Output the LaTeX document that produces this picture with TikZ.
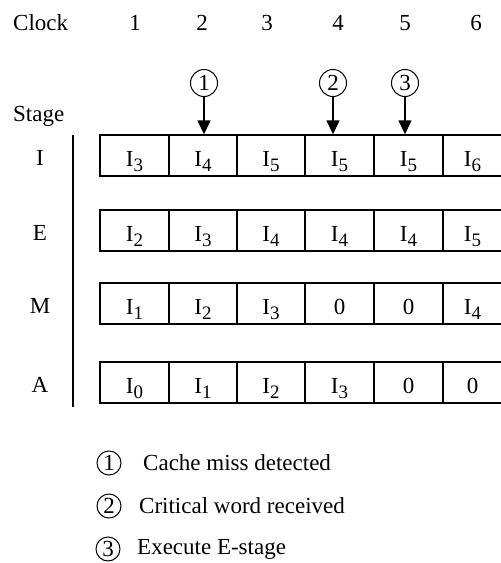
\documentclass[tikz,border=0pt]{standalone}
\usepackage{fontspec}
\setmainfont{Liberation Serif}
\usetikzlibrary{arrows.meta}
\newcommand{\sI}[1]{I\raisebox{-5pt}{\fontsize{19}{19}\selectfont #1}}
\begin{document}
\begin{tikzpicture}[x=1pt,y=-1pt,
  every node/.style={font=\fontsize{23}{27}\selectfont},
  cellbox/.style={draw,line width=1.4pt,rectangle,inner sep=0pt},
  txt/.style={anchor=base,inner sep=0pt},
  mark1/.style={draw,line width=1pt,circle,inner sep=0pt,minimum size=27pt},
  mark2/.style={draw,line width=1pt,circle,inner sep=0pt,minimum size=24pt},
  arr/.style={line width=1.5pt,-{Triangle[width=13pt,length=14pt]}}]
\useasboundingbox (0,0) rectangle (501,563);
% header
\node[txt,anchor=base west] (clock) at (13,30) {Clock};
\foreach \n/\x in {1/135,2/202,3/267,4/338,5/405,6/476}
  \node[txt] (clk\n) at (\x,30) {\n};
\node[txt,anchor=base west] (stage) at (13,121) {Stage};
% rows
\foreach \r/\top/\bot/\lab in {I/135/176/I,E/210/251/E,M/283/324/M,A/362/403/A}{
  \node[txt] (lab\r) at (40,\bot-11) {\lab};
  \foreach \c/\xa/\xb in {1/100/169,2/169/237,3/237/305,4/305/374,5/374/443,6/443/502}{
    \node[cellbox,minimum width={\xb-\xa},minimum height={\bot-\top}] (\r\c) at ({(\xa+\xb)/2},{(\top+\bot)/2}) {};
  }
}
% contents
\foreach \r/\a/\b/\c/\d/\e/\f in {I/\sI{3}/\sI{4}/\sI{5}/\sI{5}/\sI{5}/\sI{6},
  E/\sI{2}/\sI{3}/\sI{4}/\sI{4}/\sI{4}/\sI{5},
  M/\sI{1}/\sI{2}/\sI{3}/0/0/\sI{4},
  A/\sI{0}/\sI{1}/\sI{2}/\sI{3}/0/0}{
  \node[txt] (t\r1) at ([yshift=10pt]\r1.south) {\a};
  \node[txt] (t\r2) at ([yshift=10pt]\r2.south) {\b};
  \node[txt] (t\r3) at ([yshift=10pt]\r3.south) {\c};
  \node[txt] (t\r4) at ([yshift=10pt]\r4.south) {\d};
  \node[txt] (t\r5) at ([yshift=10pt]\r5.south) {\e};
  \node[txt] (t\r6) at ([yshift=10pt]\r6.south) {\f};
}
% stage axis
\coordinate (vtop) at (73,135);
\coordinate (vbot) at (73,407);
\draw[line width=2.2pt] (vtop) -- (vbot);
% event markers
\node[mark1] (c1) at (204,83) {1};
\node[mark1] (c2) at (333,83) {2};
\node[mark1] (c3) at (405,83) {3};
\draw[arr] (c1) -- (c1 |- I2.north);
\draw[arr] (c2) -- (c2 |- I4.north);
\draw[arr] (c3) -- (c3 |- I5.north);
% legend
\node[mark2] (l1) at (109,463) {1};
\node[mark2] (l2) at (109,506) {2};
\node[mark2] (l3) at (108,549) {3};
\node[anchor=west,inner sep=0pt] (lt1) at (143,463) {Cache miss detected};
\node[anchor=west,inner sep=0pt] (lt2) at (139,506) {Critical word received};
\node[anchor=west,inner sep=0pt] (lt3) at (137,549) {Execute E-stage};
\end{tikzpicture}
\end{document}
